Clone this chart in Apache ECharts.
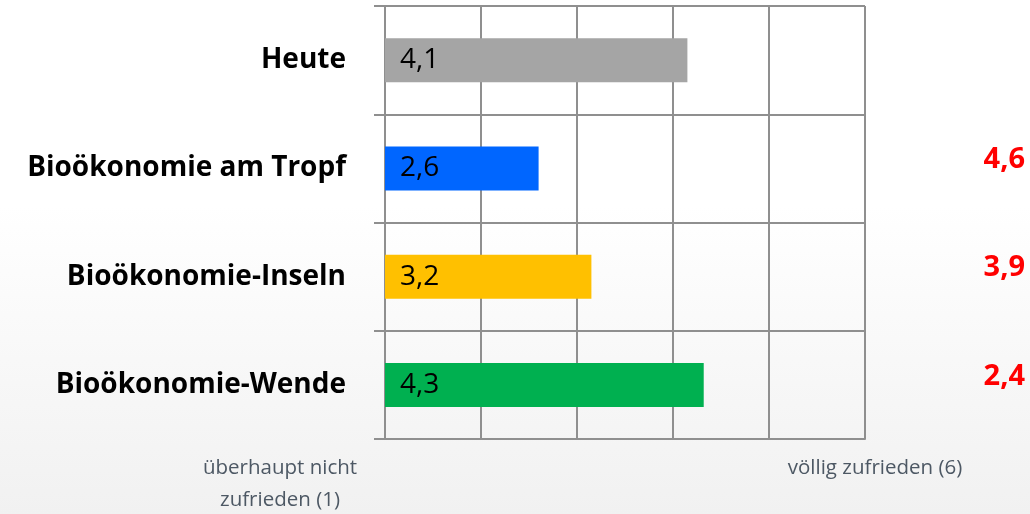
<!DOCTYPE html>
<html>
<head>
<meta charset="utf-8">
<script src="https://cdn.jsdelivr.net/npm/echarts@6/dist/echarts.min.js"></script>
<style>
html,body{margin:0;padding:0;}
#c{width:1030px;height:514px;}
</style>
</head>
<body>
<div id="c"></div>
<script>
const categories = ['Heute', 'Bioökonomie am Tropf', 'Bioökonomie-Inseln', 'Bioökonomie-Wende'];
const barValues = [4.15, 2.6, 3.15, 4.32];
const barLabels = ['4,1', '2,6', '3,2', '4,3'];
const sideValues = ['', '4,6', '3,9', '2,4'];
const xTickLabels = { 1: 'überhaupt nicht\nzufrieden (1)', 6: 'völlig zufrieden (6)' };

const palette = ['#a5a5a5', '#0066ff', '#ffc000', '#00b050'];
const gridLine = { color: '#8f8f8f', width: 2 };

const chart = echarts.init(document.getElementById('c'));
chart.setOption({
  backgroundColor: {
    type: 'linear', x: 0, y: 0, x2: 0, y2: 1,
    colorStops: [
      { offset: 0, color: '#ffffff' },
      { offset: 0.4, color: '#ffffff' },
      { offset: 1, color: '#f1f1f1' }
    ]
  },
  animation: false,
  grid: { left: 385, right: 165, top: 6, bottom: 75, containLabel: false },
  xAxis: {
    type: 'value', min: 1, max: 6, interval: 1,
    axisLine: { show: true, lineStyle: gridLine },
    axisTick: { show: false },
    splitLine: { show: true, lineStyle: gridLine },
    axisLabel: {
      show: true,
      margin: 13,
      showMinLabel: true, showMaxLabel: true,
      formatter: function (v) {
        if (v === 1) return '{l|' + xTickLabels[1] + '}';
        if (v === 6) return '{r|' + xTickLabels[6] + '}';
        return '';
      },
      rich: {
        l: { fontFamily: 'Open Sans', fontSize: 20.5, lineHeight: 32, color: '#4d5864', padding: [0, 210, 0, 0], align: 'center' },
        r: { fontFamily: 'Open Sans', fontSize: 20.5, lineHeight: 32, color: '#4d5864', padding: [0, 0, 0, 20] }
      }
    }
  },
  yAxis: [
    {
      type: 'category', data: categories, inverse: true,
      axisLine: { show: true, lineStyle: gridLine },
      axisTick: { show: true, length: 11, lineStyle: gridLine },
      splitLine: { show: true, lineStyle: gridLine },
      axisLabel: {
        fontFamily: 'Open Sans', fontWeight: 'bold', fontSize: 28, color: '#000',
        margin: 39
      }
    },
    {
      type: 'category', data: categories, inverse: true, position: 'right',
      axisLine: { show: false }, axisTick: { show: false }, splitLine: { show: false },
      axisLabel: {
        formatter: function (v, i) { return sideValues[i] ? '{s|' + sideValues[i] + '}' : ''; },
        align: 'right', margin: 160,
        rich: {
          s: { fontFamily: 'Open Sans', fontWeight: 'bold', fontSize: 29, color: '#ff0000', padding: [0, 0, 17, 0] }
        }
      }
    }
  ],
  series: [{
    type: 'bar',
    yAxisIndex: 0,
    barWidth: 44,
    clip: true,
    data: barValues.map(function (v, i) { return { value: v, itemStyle: { color: palette[i] } }; }),
    label: {
      show: true, position: 'insideLeft', distance: 15,
      formatter: function (p) { return barLabels[p.dataIndex]; },
      fontFamily: 'Open Sans', fontSize: 28, color: '#000'
    }
  }]
});
</script>
</body>
</html>
